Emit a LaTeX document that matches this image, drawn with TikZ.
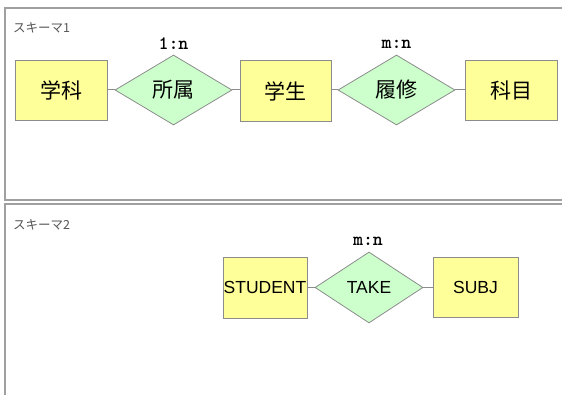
\documentclass[tikz,border=0pt]{standalone}
\usepackage{fontspec}
\setmainfont{Liberation Sans}
\newfontfamily\cjk{Noto Sans CJK JP}
\usetikzlibrary{shapes.geometric}
\definecolor{entfill}{HTML}{FFFF99}
\definecolor{relfill}{HTML}{CCFFCC}
\definecolor{edgegray}{HTML}{8C8C8C}
\definecolor{framegray}{HTML}{A0A0A0}
\definecolor{labgray}{HTML}{555555}
\tikzset{
  entity/.style={draw=edgegray, fill=entfill, line width=0.8pt, inner sep=0pt},
  rel/.style={diamond, draw=edgegray, fill=relfill, line width=0.8pt, inner sep=0pt},
  link/.style={draw=edgegray, line width=1pt},
  card/.style={font=\ttfamily\bfseries\fontsize{19}{19}\selectfont, inner sep=0pt},
  cjktext/.style={font=\cjk\fontsize{21}{21}\selectfont},
  latintext/.style={font=\fontsize{17.5}{17.5}\selectfont},
  schema/.style={font=\cjk\fontsize{12.5}{12.5}\selectfont, text=labgray, inner sep=0pt, anchor=west},
  frame/.style={draw=framegray, line width=1.5pt}
}
\begin{document}
\begin{tikzpicture}[x=1pt,y=-1pt]
\useasboundingbox (0,0) rectangle (562,395);
\clip (0,0) rectangle (562,395);
% frames
\draw[frame] (570,8) -- (5,8) -- (5,200) -- (570,200);
\draw[frame] (570,204) -- (5,204) -- (5,400);
\node[schema] (s1) at (13,28) {スキーマ1};
\node[schema] (s2) at (13,225) {スキーマ2};
% schema 1
\node[entity, cjktext, minimum width=92pt, minimum height=60pt] (gakka) at (61,90) {学科};
\node[rel, cjktext, minimum width=117pt, minimum height=70pt] (shozoku) at (173.5,90) {所属};
\node[entity, cjktext, minimum width=91pt, minimum height=61pt] (gakusei) at (285.5,91) {学生};
\node[rel, cjktext, minimum width=117pt, minimum height=70pt] (rishu) at (396.5,90) {履修};
\node[entity, cjktext, minimum width=92pt, minimum height=60pt] (kamoku) at (511,90) {科目};
\node[card] (c1) at (173.5,44) {1:n};
\node[card] (c2) at (396.5,44) {m:n};
\draw[link] (gakka.east) -- (shozoku.west);
\draw[link] (shozoku.east) -- (gakusei.west |- shozoku.east);
\draw[link] (gakusei.east |- rishu.west) -- (rishu.west);
\draw[link] (rishu.east) -- (kamoku.west);
% schema 2
\node[entity, latintext, minimum width=84pt, minimum height=61pt] (student) at (265,287.5) {STUDENT};
\node[rel, latintext, minimum width=108pt, minimum height=71pt] (take) at (369,287.5) {TAKE};
\node[entity, latintext, minimum width=85pt, minimum height=60pt] (subj) at (475.5,287) {SUBJ};
\node[card] (c3) at (368,241) {m:n};
\draw[link] (student.east) -- (take.west);
\draw[link] (take.east) -- (subj.west |- take.east);
\end{tikzpicture}
\end{document}
